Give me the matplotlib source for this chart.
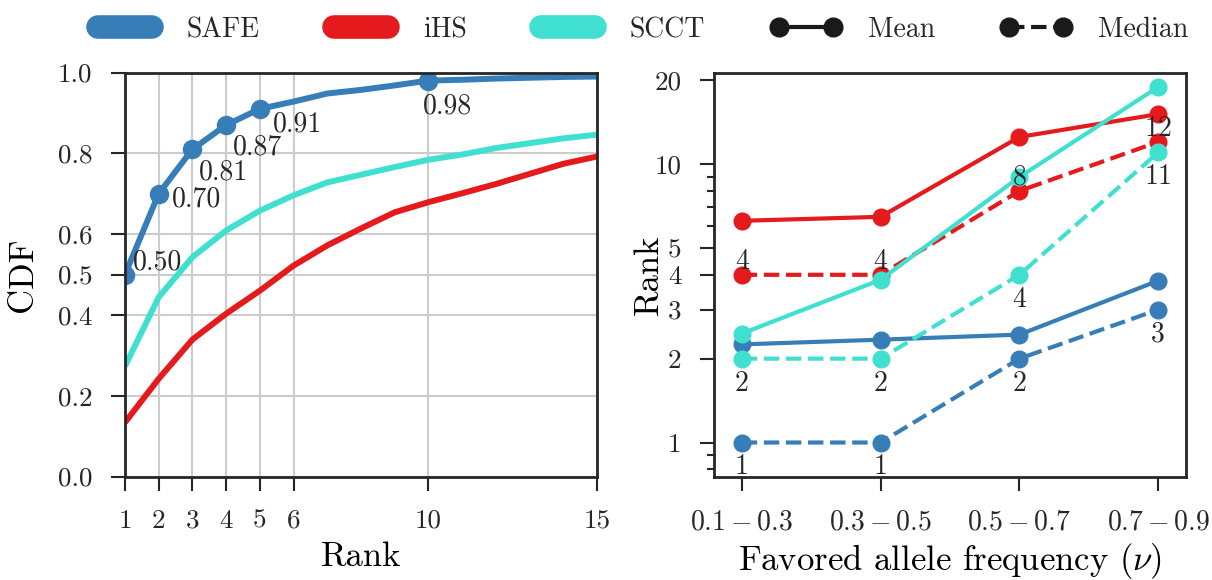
import matplotlib
matplotlib.use("Agg")
import matplotlib.pyplot as plt
from matplotlib.lines import Line2D
from matplotlib.ticker import FixedLocator, NullFormatter

plt.rcParams["font.family"] = "cmr10"
plt.rcParams["mathtext.fontset"] = "cm"
plt.rcParams["axes.formatter.use_mathtext"] = True
plt.rcParams["text.color"] = "#262626"
plt.rcParams["axes.edgecolor"] = "#262626"
plt.rcParams["xtick.color"] = "#262626"
plt.rcParams["ytick.color"] = "#262626"

# --- data ---
methods = ["SAFE", "iHS", "SCCT"]
colors = ["#377eb8", "#e41a1c", "#40e0d0"]

ranks = list(range(1, 16))
cdf_safe = [0.50, 0.70, 0.81, 0.87, 0.91, 0.928, 0.948, 0.957, 0.968, 0.98,
            0.982, 0.985, 0.987, 0.989, 0.99]
cdf_ihs = [0.134, 0.242, 0.339, 0.403, 0.46, 0.522, 0.572, 0.614, 0.654, 0.679,
           0.701, 0.724, 0.749, 0.774, 0.792]
cdf_scct = [0.273, 0.444, 0.543, 0.609, 0.658, 0.696, 0.728, 0.747, 0.766, 0.784,
            0.797, 0.813, 0.825, 0.837, 0.846]
marked_ranks = [1, 2, 3, 4, 5, 10]
rank_ticks = [1, 2, 3, 4, 5, 6, 10, 15]
cdf_ticks = [0.0, 0.2, 0.4, 0.5, 0.6, 0.8, 1.0]

freq_bins = ["$0.1 - 0.3$", "$0.3 - 0.5$", "$0.5 - 0.7$", "$0.7 - 0.9$"]
mean_safe = [2.25, 2.34, 2.44, 3.81]
median_safe = [1, 1, 2, 3]
mean_ihs = [6.25, 6.46, 12.5, 15.1]
median_ihs = [4, 4, 8, 12]
mean_scct = [2.46, 3.84, 8.98, 18.9]
median_scct = [2, 2, 4, 11]
rank_major = [1, 2, 3, 4, 5, 10, 20]
rank_minor = [0.8, 0.9, 6, 7, 8, 9]

W, H = 1212, 580
fig = plt.figure(figsize=(W / 100, H / 100), dpi=100)
ax1 = fig.add_axes([125 / W, 103.5 / H, 472 / W, 404 / H])
ax2 = fig.add_axes([714 / W, 103.5 / H, 472 / W, 404 / H])

# left: CDF of rank
for vals, c in zip([cdf_ihs, cdf_scct, cdf_safe], [colors[1], colors[2], colors[0]]):
    ax1.plot(ranks, vals, color=c, lw=4.3, solid_capstyle="butt")
marked_vals = [cdf_safe[r - 1] for r in marked_ranks]
ax1.plot(marked_ranks, marked_vals, "o", color=colors[0], ms=13)
# label offsets in points (dx, dy)
label_offsets = [(5.8, 3.6), (9.4, -9.4), (4.3, -21.6), (4.8, -21.2), (9.4, -16.3), (-4.3, -23.4)]
for r, v, off in zip(marked_ranks, marked_vals, label_offsets):
    ax1.annotate("%.2f" % v, (r, v), xytext=off, textcoords="offset points",
                 ha="left", va="baseline", fontsize=20)

ax1.set_xlim(1, 15)
ax1.set_ylim(0, 1.0)
ax1.set_xticks(rank_ticks)
ax1.set_xticklabels([str(t) for t in rank_ticks])
ax1.set_yticks(cdf_ticks)
ax1.set_yticklabels(["%.1f" % t for t in cdf_ticks])
ax1.grid(True, color="#cccccc", lw=1.5)
ax1.set_axisbelow(True)
ax1.set_xlabel("Rank", fontsize=25)
ax1.set_ylabel("CDF", fontsize=25)
ax1.xaxis.set_label_coords(0.5, -0.16)
ax1.yaxis.set_label_coords(-0.182, 0.5)

# right: mean / median rank by favored allele frequency
xs = list(range(len(freq_bins)))
series = [(mean_safe, median_safe, colors[0], -23),
          (mean_ihs, median_ihs, colors[1], 4.3),
          (mean_scct, median_scct, colors[2], -23)]
for mean_vals, med_vals, c, dy in series:
    ax2.plot(xs, mean_vals, "-o", color=c, lw=3, ms=12)
    ax2.plot(xs, med_vals, "--o", color=c, lw=3, ms=12)
for mean_vals, med_vals, c, dy in series:
    for x, v in zip(xs, med_vals):
        ax2.annotate(str(v), (x, v), xytext=(0, dy), textcoords="offset points",
                     ha="center", va="baseline", fontsize=20)

ax2.set_yscale("log")
ax2.set_ylim(0.755, 21.3)
ax2.set_xlim(-0.2, 3.2)
ax2.yaxis.set_major_locator(FixedLocator(rank_major))
ax2.set_yticklabels([str(t) for t in rank_major])
ax2.yaxis.set_minor_locator(FixedLocator(rank_minor))
ax2.yaxis.set_minor_formatter(NullFormatter())
ax2.set_xticks(xs)
ax2.set_xticklabels(freq_bins)
ax2.set_xlabel(r"Favored allele frequency ($\nu$)", fontsize=25)
ax2.set_ylabel("Rank", fontsize=25)
ax2.xaxis.set_label_coords(0.5, -0.16)
ax2.yaxis.set_label_coords(-0.104, 0.5)

for ax in (ax1, ax2):
    for s in ax.spines.values():
        s.set_linewidth(2)
    ax.tick_params(which="major", direction="out", length=10, width=1.5, pad=13.3, labelsize=19.5)
    ax.tick_params(which="minor", direction="out", length=5, width=1.5)
ax2.tick_params(axis="x", labelsize=20)

# legend
handles = [Line2D([], [], color=c, lw=17, solid_capstyle="round") for c in colors]
handles.append(Line2D([], [], color="#1a1a1a", lw=3, marker="o", ms=13.5))
handles.append(Line2D([], [], color="#1a1a1a", lw=3, ls="--", marker="o", ms=13.5))
fig.legend(handles, methods + ["Mean", "Median"], loc="center",
           bbox_to_anchor=(639 / W, 1 - 30 / H), ncol=5, frameon=False, fontsize=20,
           handlelength=2.54, handletextpad=0.96, columnspacing=2.37, numpoints=2)

fig.savefig("out.png", dpi=100)
